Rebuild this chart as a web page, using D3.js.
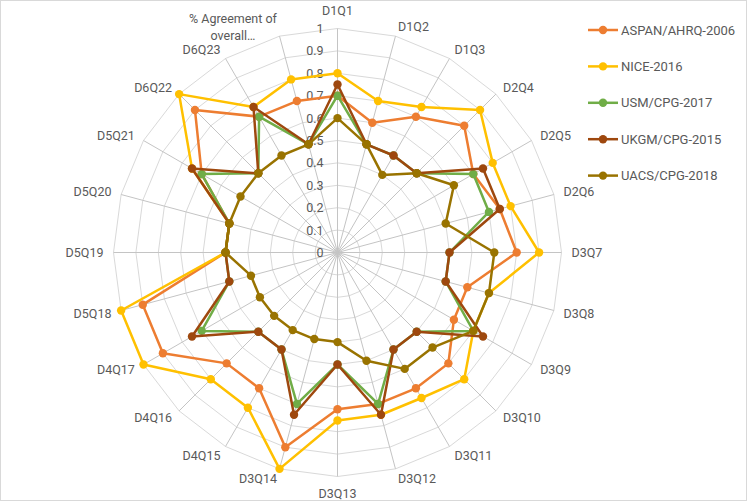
<!DOCTYPE html>
<html>
<head>
<meta charset="utf-8">
<script src="https://cdn.jsdelivr.net/npm/d3@7"></script>
<style>
  body { margin: 0; background: #fff; }
  text { font-family: Roboto, "Liberation Sans", sans-serif; fill: #595959; }
</style>
</head>
<body>
<div id="chart"></div>
<script>
const width = 750;
const height = 503;
const center = {x: 337.5, y: 252.5};
const radius = 224;

// Data
const axes = ["D1Q1", "D1Q2", "D1Q3", "D2Q4", "D2Q5", "D2Q6", "D3Q7", "D3Q8", "D3Q9", "D3Q10",
  "D3Q11", "D3Q12", "D3Q13", "D3Q14", "D4Q15", "D4Q16", "D4Q17", "D5Q18", "D5Q19", "D5Q20",
  "D5Q21", "D6Q22", "D6Q23", "% Agreement of overall…"];
const tickValues = [0, 0.1, 0.2, 0.3, 0.4, 0.5, 0.6, 0.7, 0.8, 0.9, 1];
const seriesNames = ["ASPAN/AHRQ-2006", "NICE-2016", "USM/CPG-2017", "UKGM/CPG-2015", "UACS/CPG-2018"];
const aspan = [0.7, 0.6, 0.7, 0.8, 0.7, 0.75, 0.8, 0.6, 0.6, 0.7, 0.7, 0.7, 0.7, 0.9, 0.7, 0.7, 0.9, 0.9, 0.5, 0.5, 0.7, 0.9, 0.7, 0.7];
const nice = [0.8, 0.7, 0.75, 0.9, 0.8, 0.8, 0.9, 0.7, 0.7, 0.8, 0.75, 0.75, 0.75, 1.0, 0.8, 0.8, 1.0, 1.0, 0.5, 0.5, 0.75, 1.0, 0.75, 0.8];
const usm = [0.7, 0.5, 0.5, 0.5, 0.7, 0.7, 0.5, 0.5, 0.7, 0.5, 0.5, 0.7, 0.5, 0.7, 0.5, 0.5, 0.7, 0.5, 0.5, 0.5, 0.7, 0.5, 0.7, 0.5];
const ukgm = [0.75, 0.5, 0.5, 0.5, 0.75, 0.75, 0.5, 0.5, 0.75, 0.5, 0.5, 0.75, 0.5, 0.75, 0.5, 0.5, 0.75, 0.5, 0.5, 0.5, 0.75, 0.5, 0.75, 0.5];
const uacs = [0.6, 0.5, 0.4, 0.5, 0.6, 0.5, 0.7, 0.7, 0.7, 0.6, 0.6, 0.5, 0.4, 0.4, 0.4, 0.4, 0.4, 0.4, 0.5, 0.5, 0.5, 0.5, 0.5, 0.5];
const colors = ["#ED7D31", "#FFC000", "#70AD47", "#9E480E", "#997300"];

const series = [aspan, nice, usm, ukgm, uacs].map((values, i) => ({
  name: seriesNames[i], color: colors[i], values: values
}));

const svg = d3.select("#chart")
  .append("svg")
    .attr("width", width)
    .attr("height", height);

svg.append("rect")
    .attr("x", 0.5).attr("y", 0.5)
    .attr("width", width - 4).attr("height", height - 3)
    .attr("fill", "#fff")
    .attr("stroke", "#D9D9D9");

const chart = svg.append("g")
    .attr("transform", `translate(${center.x}, ${center.y})`);

// Scales
const rScale = d3.scaleLinear().domain([0, 1]).range([0, radius]);
const aScale = d3.scaleLinear().domain([0, axes.length]).range([0, 2 * Math.PI]);
const point = (i, v) => [Math.sin(aScale(i)) * rScale(v), -Math.cos(aScale(i)) * rScale(v)];

// Grid rings
const ringLine = d3.lineRadial()
  .angle((d, i) => aScale(i))
  .radius(d => rScale(d))
  .curve(d3.curveLinearClosed);

chart.append("g")
    .attr("class", "rings")
  .selectAll("path")
  .data(tickValues.slice(1))
  .join("path")
    .attr("d", t => ringLine(axes.map(() => t)))
    .attr("fill", "none")
    .attr("stroke", "#D9D9D9")
    .attr("stroke-width", 1);

// Spokes
chart.append("g")
    .attr("class", "spokes")
  .selectAll("line")
  .data(axes)
  .join("line")
    .attr("x1", 0).attr("y1", 0)
    .attr("x2", (d, i) => point(i, 1)[0])
    .attr("y2", (d, i) => point(i, 1)[1])
    .attr("stroke", "#C4C4C4")
    .attr("stroke-width", 1);

// Tick labels along the first spoke
chart.append("g")
    .attr("class", "tick-labels")
  .selectAll("text")
  .data(tickValues)
  .join("text")
    .attr("x", -14)
    .attr("y", d => -rScale(d))
    .attr("text-anchor", "end")
    .attr("dominant-baseline", "central")
    .attr("font-size", "12.5px")
    .text(d => d3.format("")(d));

// Axis labels
const wrap = (label) => {
  if (label.length <= 14) return [label];
  const words = label.split(" ");
  const lines = [""];
  words.forEach(w => {
    const cur = lines[lines.length - 1];
    if ((cur + " " + w).trim().length > 14 && cur) lines.push(w);
    else lines[lines.length - 1] = (cur + " " + w).trim();
  });
  return lines;
};

const labelGroup = chart.append("g").attr("class", "axis-labels");
axes.forEach((label, i) => {
  const a = aScale(i);
  const s = Math.sin(a), c = Math.cos(a);
  const lines = wrap(label);
  const [x, y] = point(i, 234 / radius);
  const text = labelGroup.append("text")
      .attr("font-size", "12.5px")
      .attr("dominant-baseline", "central");
  if (lines.length === 1) {
    let anchor = Math.abs(s) < 0.05 ? "middle" : (s > 0 ? "start" : "end");
    let yy = y;
    if (Math.abs(s) < 0.05) yy = c > 0 ? y - 8 : y + 7;
    text.attr("x", x).attr("y", yy).attr("text-anchor", anchor).text(label);
  } else {
    // Multiline label: block is right-aligned against the spoke, lines centered
    const lineHeight = 17;
    const tspans = text.selectAll("tspan")
      .data(lines)
      .join("tspan")
        .attr("x", x)
        .attr("y", (d, k) => y + (k - (lines.length - 1) / 2) * lineHeight)
        .text(d => d);
    const maxW = d3.max(tspans.nodes(), n => n.getComputedTextLength());
    const cx = s > 0 ? x + maxW / 2 : x - maxW / 2;
    tspans.attr("x", cx).attr("text-anchor", "middle");
  }
});

// Series
const seriesLine = d3.lineRadial()
  .angle((d, i) => aScale(i))
  .radius(d => rScale(d))
  .curve(d3.curveLinearClosed);

const seriesGroups = chart.append("g")
    .attr("class", "series")
  .selectAll("g")
  .data(series)
  .join("g");

seriesGroups.append("path")
    .attr("d", d => seriesLine(d.values))
    .attr("fill", "none")
    .attr("stroke", d => d.color)
    .attr("stroke-width", 2.5)
    .attr("stroke-linejoin", "round");

seriesGroups.selectAll("circle")
  .data(d => d.values.map((v, i) => ({v, i, color: d.color})))
  .join("circle")
    .attr("cx", d => point(d.i, d.v)[0])
    .attr("cy", d => point(d.i, d.v)[1])
    .attr("r", 4.2)
    .attr("fill", d => d.color);

// Legend
const legend = svg.append("g")
    .attr("class", "legend")
    .attr("transform", "translate(588, 30)");

const legendItems = legend.selectAll("g")
  .data(series)
  .join("g")
    .attr("transform", (d, i) => `translate(0, ${i * 36.4})`);

legendItems.append("line")
    .attr("x1", 0).attr("x2", 30)
    .attr("stroke", d => d.color)
    .attr("stroke-width", 2.5);
legendItems.append("circle")
    .attr("cx", 15)
    .attr("r", 4.2)
    .attr("fill", d => d.color);
legendItems.append("text")
    .attr("x", 33)
    .attr("dominant-baseline", "central")
    .attr("font-size", "13px")
    .text(d => d.name);
</script>
</body>
</html>
